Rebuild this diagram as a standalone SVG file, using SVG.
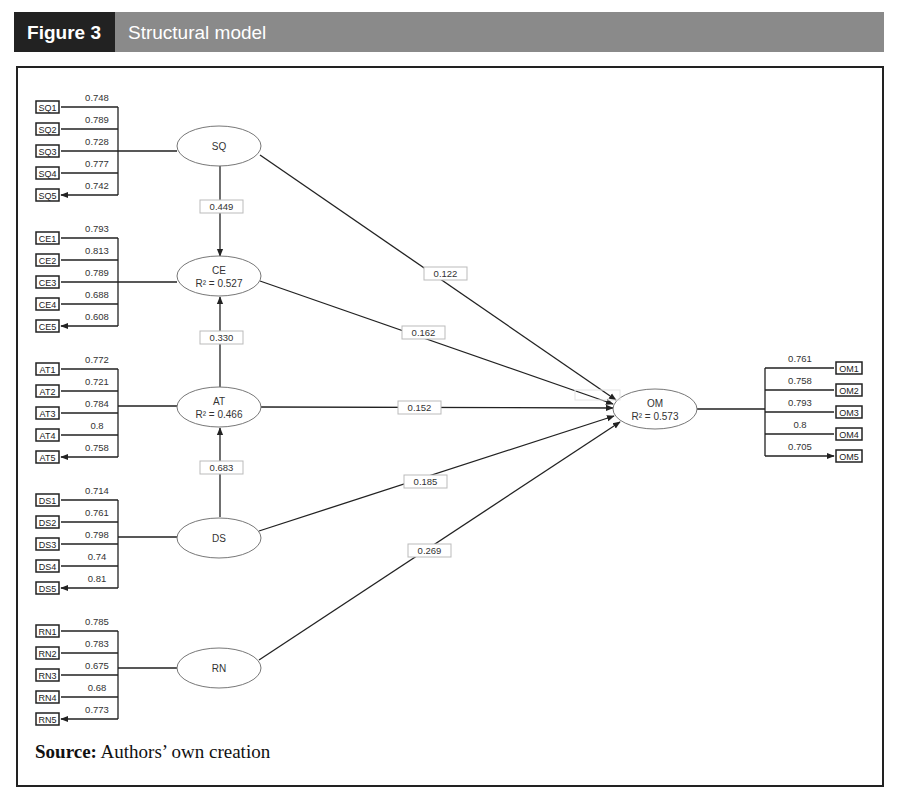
<svg xmlns="http://www.w3.org/2000/svg" width="900" height="804" viewBox="0 0 900 804">
<style>
text{font-family:"Liberation Sans",Arial,sans-serif;fill:#333}
.l{font-size:9.5px;text-anchor:middle}
.ib{fill:#fff;stroke:#222;stroke-width:1.5}
.it{font-size:9px;text-anchor:middle;fill:#222}
.ln{stroke:#222;stroke-width:1.3;fill:none}
.el{fill:#fff;stroke:#777;stroke-width:1}
.pb{fill:#fff;stroke:#bbb;stroke-width:1}
.et{font-size:10px;text-anchor:middle}
</style>
<defs><marker id="a" viewBox="0 0 10 10" refX="9" refY="5" markerWidth="6" markerHeight="6" orient="auto"><path d="M0,1L10,5L0,9z" fill="#222"/></marker></defs>
<rect width="900" height="804" fill="#fff"/>
<g id="header"><rect x="14" y="12" width="870" height="40" fill="#8a8a8a"/><rect x="14" y="12" width="101" height="40" fill="#222"/>
<text x="64" y="39" style="font-size:19px;font-weight:bold;fill:#fff;text-anchor:middle">Figure 3</text>
<text x="128" y="39" style="font-size:19px;fill:#fff">Structural model</text></g>
<rect x="17" y="67" width="866" height="719" fill="none" stroke="#222" stroke-width="2"/>
<g id="connectors">
<path class="ln" d="M118,107V195M118,151H177M118,238V326M118,282H177M118,369V457M118,406H177M118,500V588M118,537H177M118,631V719M118,668H177M765,368V456M697,409H765"/>
<g marker-end="url(#a)">
<path class="ln" d="M118,107H61M118,129H61M118,151H61M118,173H61M118,195H61"/>
<path class="ln" d="M118,238H61M118,260H61M118,282H61M118,304H61M118,326H61"/>
<path class="ln" d="M118,369H61M118,391H61M118,413H61M118,435H61M118,457H61"/>
<path class="ln" d="M118,500H61M118,522H61M118,544H61M118,566H61M118,588H61"/>
<path class="ln" d="M118,631H61M118,653H61M118,675H61M118,697H61M118,719H61"/>
<path class="ln" d="M765,368H834M765,390H834M765,412H834M765,434H834M765,456H834"/>
<path class="ln" d="M220,166V256"/><path class="ln" d="M220,517V428"/><path class="ln" d="M220,387V297"/>
<path class="ln" d="M260,155L616,400"/><path class="ln" d="M260,281L613,404"/><path class="ln" d="M261,407L613,408"/><path class="ln" d="M259,531L614,416"/><path class="ln" d="M259,660L620,422"/>
</g></g>
<g id="loadings">
<text class="l" x="97" y="101">0.748</text><text class="l" x="97" y="123">0.789</text><text class="l" x="97" y="145">0.728</text><text class="l" x="97" y="167">0.777</text><text class="l" x="97" y="189">0.742</text>
<text class="l" x="97" y="232">0.793</text><text class="l" x="97" y="254">0.813</text><text class="l" x="97" y="276">0.789</text><text class="l" x="97" y="298">0.688</text><text class="l" x="97" y="320">0.608</text>
<text class="l" x="97" y="363">0.772</text><text class="l" x="97" y="385">0.721</text><text class="l" x="97" y="407">0.784</text><text class="l" x="97" y="429">0.8</text><text class="l" x="97" y="451">0.758</text>
<text class="l" x="97" y="494">0.714</text><text class="l" x="97" y="516">0.761</text><text class="l" x="97" y="538">0.798</text><text class="l" x="97" y="560">0.74</text><text class="l" x="97" y="582">0.81</text>
<text class="l" x="97" y="625">0.785</text><text class="l" x="97" y="647">0.783</text><text class="l" x="97" y="669">0.675</text><text class="l" x="97" y="691">0.68</text><text class="l" x="97" y="713">0.773</text>
<text class="l" x="800" y="362">0.761</text><text class="l" x="800" y="384">0.758</text><text class="l" x="800" y="406">0.793</text><text class="l" x="800" y="428">0.8</text><text class="l" x="800" y="450">0.705</text>
</g>
<g id="indicators">
<g><rect class="ib" x="36" y="101" width="23" height="12"/><text class="it" x="47.5" y="110.5">SQ1</text></g>
<g><rect class="ib" x="36" y="123" width="23" height="12"/><text class="it" x="47.5" y="132.5">SQ2</text></g>
<g><rect class="ib" x="36" y="145" width="23" height="12"/><text class="it" x="47.5" y="154.5">SQ3</text></g>
<g><rect class="ib" x="36" y="167" width="23" height="12"/><text class="it" x="47.5" y="176.5">SQ4</text></g>
<g><rect class="ib" x="36" y="189" width="23" height="12"/><text class="it" x="47.5" y="198.5">SQ5</text></g>
<g><rect class="ib" x="36" y="232" width="23" height="12"/><text class="it" x="47.5" y="241.5">CE1</text></g>
<g><rect class="ib" x="36" y="254" width="23" height="12"/><text class="it" x="47.5" y="263.5">CE2</text></g>
<g><rect class="ib" x="36" y="276" width="23" height="12"/><text class="it" x="47.5" y="285.5">CE3</text></g>
<g><rect class="ib" x="36" y="298" width="23" height="12"/><text class="it" x="47.5" y="307.5">CE4</text></g>
<g><rect class="ib" x="36" y="320" width="23" height="12"/><text class="it" x="47.5" y="329.5">CE5</text></g>
<g><rect class="ib" x="36" y="363" width="23" height="12"/><text class="it" x="47.5" y="372.5">AT1</text></g>
<g><rect class="ib" x="36" y="385" width="23" height="12"/><text class="it" x="47.5" y="394.5">AT2</text></g>
<g><rect class="ib" x="36" y="407" width="23" height="12"/><text class="it" x="47.5" y="416.5">AT3</text></g>
<g><rect class="ib" x="36" y="429" width="23" height="12"/><text class="it" x="47.5" y="438.5">AT4</text></g>
<g><rect class="ib" x="36" y="451" width="23" height="12"/><text class="it" x="47.5" y="460.5">AT5</text></g>
<g><rect class="ib" x="36" y="494" width="23" height="12"/><text class="it" x="47.5" y="503.5">DS1</text></g>
<g><rect class="ib" x="36" y="516" width="23" height="12"/><text class="it" x="47.5" y="525.5">DS2</text></g>
<g><rect class="ib" x="36" y="538" width="23" height="12"/><text class="it" x="47.5" y="547.5">DS3</text></g>
<g><rect class="ib" x="36" y="560" width="23" height="12"/><text class="it" x="47.5" y="569.5">DS4</text></g>
<g><rect class="ib" x="36" y="582" width="23" height="12"/><text class="it" x="47.5" y="591.5">DS5</text></g>
<g><rect class="ib" x="36" y="625" width="23" height="12"/><text class="it" x="47.5" y="634.5">RN1</text></g>
<g><rect class="ib" x="36" y="647" width="23" height="12"/><text class="it" x="47.5" y="656.5">RN2</text></g>
<g><rect class="ib" x="36" y="669" width="23" height="12"/><text class="it" x="47.5" y="678.5">RN3</text></g>
<g><rect class="ib" x="36" y="691" width="23" height="12"/><text class="it" x="47.5" y="700.5">RN4</text></g>
<g><rect class="ib" x="36" y="713" width="23" height="12"/><text class="it" x="47.5" y="722.5">RN5</text></g>
<g><rect class="ib" x="836" y="362" width="26" height="12"/><text class="it" x="849" y="371.5">OM1</text></g>
<g><rect class="ib" x="836" y="384" width="26" height="12"/><text class="it" x="849" y="393.5">OM2</text></g>
<g><rect class="ib" x="836" y="406" width="26" height="12"/><text class="it" x="849" y="415.5">OM3</text></g>
<g><rect class="ib" x="836" y="428" width="26" height="12"/><text class="it" x="849" y="437.5">OM4</text></g>
<g><rect class="ib" x="836" y="450" width="26" height="12"/><text class="it" x="849" y="459.5">OM5</text></g>
</g>
<g id="SQ"><ellipse class="el" cx="219" cy="146" rx="42" ry="20"/><text class="et" x="219" y="150">SQ</text></g>
<g id="CE"><ellipse class="el" cx="219" cy="276" rx="42" ry="20"/><text class="et" x="219" y="274">CE</text><text class="et" x="219" y="287">R² = 0.527</text></g>
<g id="AT"><ellipse class="el" cx="219" cy="407" rx="42" ry="20"/><text class="et" x="219" y="405">AT</text><text class="et" x="219" y="418">R² = 0.466</text></g>
<g id="DS"><ellipse class="el" cx="219" cy="538" rx="42" ry="20"/><text class="et" x="219" y="542">DS</text></g>
<g id="RN"><ellipse class="el" cx="219" cy="668" rx="42" ry="20"/><text class="et" x="219" y="672">RN</text></g>
<g id="OM"><ellipse class="el" cx="655" cy="409" rx="42" ry="20"/><text class="et" x="655" y="407">OM</text><text class="et" x="655" y="420">R² = 0.573</text></g>
<g id="paths">
<rect class="pb" x="200" y="200" width="43" height="13"/><text class="l" x="221.5" y="210">0.449</text>
<rect class="pb" x="200" y="331" width="43" height="13"/><text class="l" x="221.5" y="341">0.330</text>
<rect class="pb" x="200" y="461" width="43" height="13"/><text class="l" x="221.5" y="471">0.683</text>
<rect class="pb" x="424" y="267" width="43" height="13"/><text class="l" x="445.5" y="277">0.122</text>
<rect class="pb" x="402" y="326" width="43" height="13"/><text class="l" x="423.5" y="336">0.162</text>
<rect class="pb" x="398" y="401" width="43" height="13"/><text class="l" x="419.5" y="411">0.152</text>
<rect class="pb" x="404" y="475" width="43" height="13"/><text class="l" x="425.5" y="485">0.185</text>
<rect class="pb" x="408" y="544" width="43" height="13"/><text class="l" x="429.5" y="554">0.269</text>
<rect x="575" y="390" width="45" height="10" fill="none" stroke="#e4e4e4"/>
</g>
<text x="35" y="758" style="font-family:'Liberation Serif',serif;font-size:19px;fill:#111"><tspan font-weight="bold">Source:</tspan> Authors’ own creation</text>
</svg>
